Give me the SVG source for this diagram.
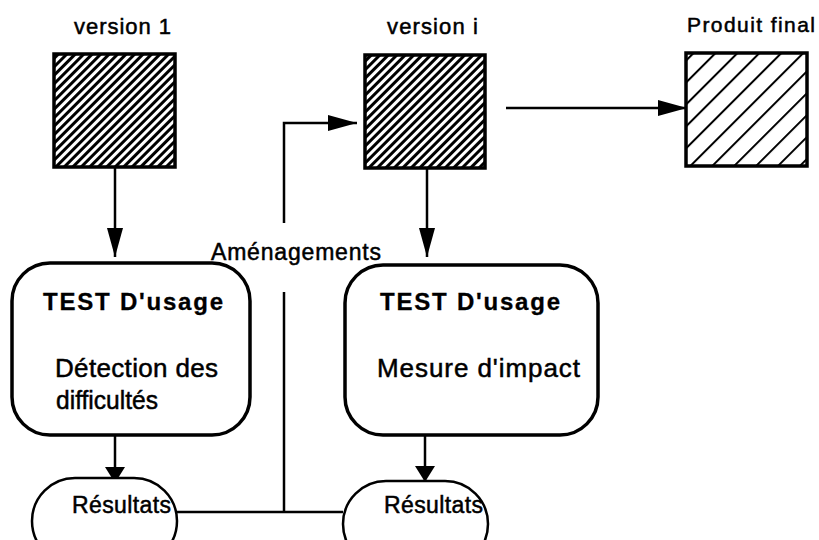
<svg xmlns="http://www.w3.org/2000/svg" width="819" height="540" viewBox="0 0 819 540">
<style>
  text { font-family: "Liberation Sans", Arial, sans-serif; fill: #000; stroke: #000; stroke-width: 0.5; }
  .lbl { font-size: 22px; }
  .title { font-size: 24px; font-weight: bold; stroke-width: 0.3; }
  .body { font-size: 26px; }
  .res { font-size: 23px; }
  .ver { stroke: #000; stroke-width: 3.5; }
  .box { fill: #fff; stroke: #000; stroke-width: 3.5; }
  .pill { fill: #fff; stroke: #000; stroke-width: 2.5; }
  .conn { fill: none; stroke: #000; stroke-width: 2.5; }
</style>
<defs>
  <pattern id="dense" width="6" height="6" patternUnits="userSpaceOnUse" patternTransform="rotate(45)">
    <rect x="0" y="0" width="6" height="6" fill="#fff"/>
    <rect x="0" y="0" width="3" height="6" fill="#000"/>
  </pattern>
  <pattern id="sparse" width="15.5" height="15.5" patternUnits="userSpaceOnUse" patternTransform="rotate(45)">
    <rect x="0" y="0" width="15.5" height="15.5" fill="#fff"/>
    <rect x="0" y="0" width="2" height="15.5" fill="#000"/>
  </pattern>
  <marker id="arrow" markerUnits="userSpaceOnUse" markerWidth="30" markerHeight="18" refX="29" refY="8" orient="auto">
    <path d="M0,0 L29,8 L0,16 Z" fill="#000"/>
  </marker>
  <marker id="arrowS" markerUnits="userSpaceOnUse" markerWidth="18" markerHeight="22" refX="16" refY="10" orient="auto">
    <path d="M0,0 L16,10 L0,20 Z" fill="#000"/>
  </marker>
</defs>

<g id="connectors">
  <path class="conn" d="M115,168 V257" marker-end="url(#arrow)"/>
  <path class="conn" d="M427,168 V257" marker-end="url(#arrow)"/>
  <path class="conn" d="M506,108 H687" marker-end="url(#arrow)"/>
  <path class="conn" d="M284,223 V123 H357" marker-end="url(#arrow)"/>
  <path class="conn" d="M115,435 V483" marker-end="url(#arrowS)"/>
  <path class="conn" d="M425,435 V482" marker-end="url(#arrowS)"/>
  <path class="conn" d="M177,512 H343"/>
  <path class="conn" d="M284,292 V512"/>
  <text class="lbl" x="211" y="260" style="font-size:23px" textLength="170" lengthAdjust="spacing">Aménagements</text>
</g>

<g id="version1">
  <text class="lbl" x="74" y="34" textLength="97" lengthAdjust="spacing">version 1</text>
  <rect class="ver" x="54" y="54" width="121" height="113" fill="url(#dense)"/>
</g>

<g id="versioni">
  <text class="lbl" x="387" y="34" textLength="91" lengthAdjust="spacing">version i</text>
  <rect class="ver" x="365" y="55" width="120" height="113" fill="url(#dense)"/>
</g>

<g id="produit-final">
  <text class="lbl" x="687" y="32" style="font-size:21px" textLength="128" lengthAdjust="spacing">Produit final</text>
  <rect class="ver" x="686" y="53" width="121" height="113" fill="url(#sparse)"/>
</g>

<g id="test1">
  <rect class="box" x="12" y="263" width="238" height="172" rx="38" ry="38"/>
  <text class="title" x="43" y="310" textLength="180" lengthAdjust="spacing">TEST D'usage</text>
  <text class="body" x="55" y="377" textLength="163" lengthAdjust="spacing">Détection des</text>
  <text class="body" x="56" y="409" textLength="102" lengthAdjust="spacingAndGlyphs">difficultés</text>
</g>

<g id="test2">
  <rect class="box" x="345" y="265" width="253" height="170" rx="38" ry="38"/>
  <text class="title" x="380" y="310" textLength="180" lengthAdjust="spacing">TEST D'usage</text>
  <text class="body" x="377" y="377" textLength="203" lengthAdjust="spacing">Mesure d'impact</text>
</g>

<g id="resultats1">
  <rect class="pill" x="32" y="478" width="145" height="86" rx="43" ry="43"/>
  <text class="res" x="72" y="513" textLength="99" lengthAdjust="spacing">Résultats</text>
</g>

<g id="resultats2">
  <rect class="pill" x="343" y="481" width="145" height="86" rx="43" ry="43"/>
  <text class="res" x="384" y="513" textLength="99" lengthAdjust="spacing">Résultats</text>
</g>
</svg>
